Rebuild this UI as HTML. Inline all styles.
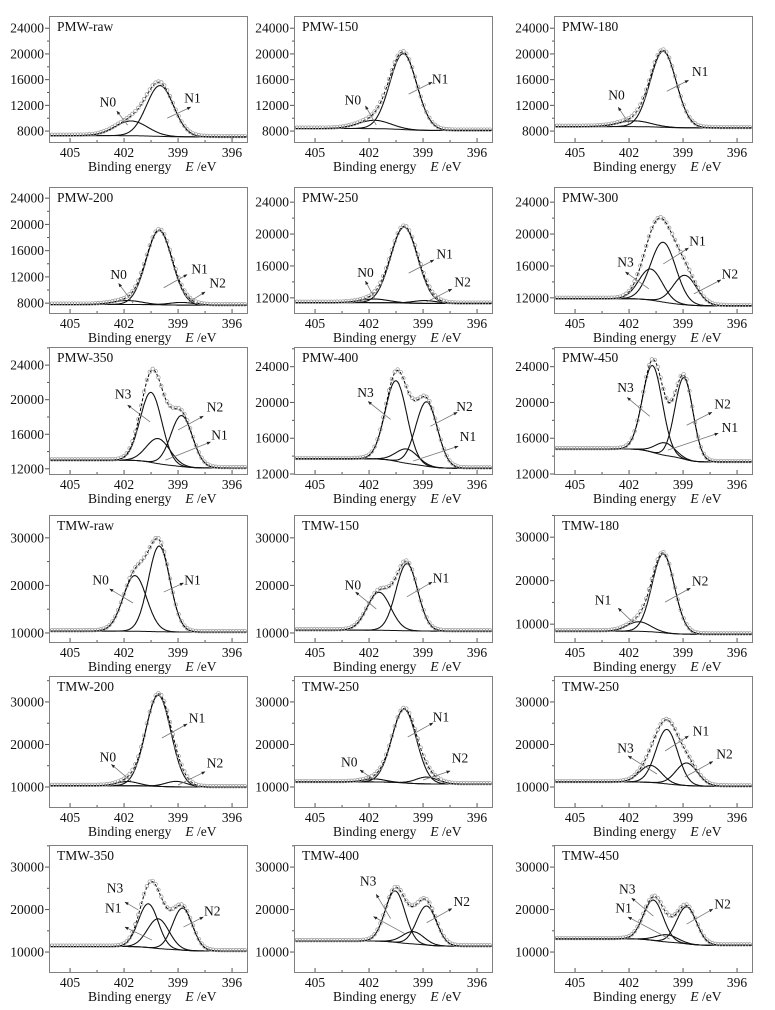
<!DOCTYPE html>
<html><head><meta charset="utf-8"><style>
html,body{margin:0;padding:0;background:#fff;}
svg{display:block;}
svg text{font-family:"Liberation Serif","Times New Roman",serif;}
</style></head><body>
<svg id="fig" width="775" height="1010" viewBox="0 0 775 1010" xmlns="http://www.w3.org/2000/svg" font-family="Liberation Serif, serif"></svg>
<script>
const panelNames=["PMW-raw","PMW-150","PMW-180","PMW-200","PMW-250","PMW-300","PMW-350","PMW-400","PMW-450","TMW-raw","TMW-150","TMW-180","TMW-200","TMW-250","TMW-250","TMW-350","TMW-400","TMW-450"];
const yDomains=[[6300,25900],[6300,25900],[6300,25900],[6500,25700],[10100,25900],[10100,25900],[11400,26100],[12000,26200],[12000,26200],[8100,34800],[8100,34800],[5900,35100],[5300,36100],[5300,36100],[5300,36100],[5300,35200],[5300,35200],[5300,35200]];
const yTickSets=[[8000,12000,16000,20000,24000],[8000,12000,16000,20000,24000],[8000,12000,16000,20000,24000],[8000,12000,16000,20000,24000],[12000,16000,20000,24000],[12000,16000,20000,24000],[12000,16000,20000,24000],[12000,16000,20000,24000],[12000,16000,20000,24000],[10000,20000,30000],[10000,20000,30000],[10000,20000,30000],[10000,20000,30000],[10000,20000,30000],[10000,20000,30000],[10000,20000,30000],[10000,20000,30000],[10000,20000,30000]];
const xTicks=[405,402,399,396];
const baseLeft=[7300,8400,8700,7800,11400,11900,13000,13700,14800,10400,10600,8400,10300,11200,11200,11300,12600,13100];
const baseRight=[7100,8100,8500,7700,11300,11000,12100,12650,13350,10200,10400,7700,10000,10700,10200,10250,11400,11600];
const peakCenters=[[401.6,400.0],[401.7,400.1],[401.7,400.1],[401.8,400.05,398.8],[401.7,400.05,398.9],[400.8,400.1,398.9],[400.5,400.1,398.8],[400.5,399.9,398.8],[400.7,400.0,398.95],[401.4,400.05],[401.45,399.9],[401.45,400.1],[401.8,400.1,399.1],[401.7,400.05,398.8],[400.8,399.9,398.8],[400.65,400.1,398.75],[400.55,399.55,398.8],[400.65,399.9,398.8]];
const peakHeights=[[2300,7900],[1300,11800],[900,11800],[600,11300,400],[450,9500,350],[3900,7500,3700],[8100,2900,5900],[9000,1600,7200],[9700,1400,9100],[11700,18000],[8000,14100],[2200,18100],[1000,21400,1300],[700,17300,1600],[4000,12800,5300],[10300,7000,9900],[12100,2900,9200],[9500,1700,8700]];
const peakWidths=[[0.9,0.75],[0.9,0.75],[0.9,0.72],[0.8,0.72,0.7],[0.8,0.75,0.65],[0.65,0.7,0.65],[0.6,0.65,0.6],[0.6,0.6,0.6],[0.55,0.55,0.5],[0.65,0.6],[0.65,0.6],[0.65,0.62],[0.6,0.7,0.6],[0.6,0.68,0.6],[0.6,0.6,0.6],[0.55,0.6,0.55],[0.55,0.6,0.55],[0.55,0.6,0.55]];
// [text, textE, textV, tailE, tailV, headE, headV]
const peakLabels=[
[["N0",402.9,12500,401.8,8930,402.4,11100],["N1",398.2,13130,399.6,10020,398.3,11730]],
[["N0",402.9,12800,401.6,8930,402.2,11900],["N1",398.05,16080,399.8,13750,398.5,15600]],
[["N0",402.7,13600,401.95,8930,402.6,11700],["N1",398.05,17300,399.9,14200,398.7,15900]],
[["N0",402.3,12400,401.5,8000,402.3,11000],["N1",397.8,13240,399.8,10350,398.5,12350],["N2",396.8,11100,398.5,8000,397.5,9700]],
[["N0",402.2,15200,401.7,11960,402.2,14100],["N1",397.8,17500,399.8,15100,398.4,16750],["N2",396.8,14000,398.8,11500,397.4,13100]],
[["N3",402.2,16500,400.9,13130,402.2,15250],["N1",398.2,19100,400.1,16250,398.7,18250],["N2",396.4,15000,398.4,12500,396.9,14250]],
[["N3",402.05,20650,400.55,17420,401.8,19380],["N2",396.95,19150,399.0,16500,397.6,18100],["N1",396.7,15900,399.7,13000,397.2,15100]],
[["N3",402.2,21100,400.8,18100,402.05,20100],["N2",396.7,19550,398.6,17330,397.1,18900],["N1",396.5,16200,399.55,13450,397.05,15100]],
[["N3",402.2,21670,400.85,18450,402.1,20550],["N2",396.8,19800,398.8,17450,397.4,18900],["N1",396.4,17200,399.85,14670,397.05,16550]],
[["N0",403.3,21160,401.5,16300,402.8,19260],["N1",398.2,21160,399.8,18600,398.7,20500]],
[["N0",402.9,20100,401.6,15050,402.75,18600],["N1",398.0,21600,399.9,17600,398.5,20700]],
[["N1",403.45,15520,401.8,10460,402.6,13680],["N2",398.05,19880,400.0,15060,398.6,18280]],
[["N0",402.9,17060,401.55,11180,402.7,15300],["N1",397.95,26240,399.9,21530,398.5,24820],["N2",396.95,15650,399.0,10470,397.5,13600]],
[["N0",403.1,15900,401.7,11650,402.5,13990],["N1",398.0,26470,399.85,21760,398.45,25060],["N2",396.95,16820,399.0,11650,397.5,13760]],
[["N3",402.2,19170,400.45,13060,402.05,17300],["N1",398.0,23180,400.0,18470,398.7,22000],["N2",396.7,17760,398.9,12350,397.35,16000]],
[["N3",402.5,25060,401.2,19880,401.95,21760],["N1",402.6,20350,400.45,12820,401.95,15880],["N2",397.1,19650,398.7,15880,397.6,18240]],
[["N3",402.05,26670,400.8,17860,401.6,23570],["",0,0,400.0,14290,401.75,18330],["N2",396.85,21900,398.8,16900,397.4,20240]],
[["N3",402.1,24830,400.65,18470,401.85,22700],["N1",402.3,20350,399.75,13060,402.05,18240],["N2",396.8,21300,398.8,16590,397.35,20120]]
];
const colLefts=[49,294,554];
const rowFrames=[[16,142],[187,313],[347,474],[515,642],[676,807],[845,972]];
const PW=198;
const FONT='"Liberation Serif", "Times New Roman", serif';
const NS="http://www.w3.org/2000/svg";
const svg=document.getElementById('fig');
function mk(tag,attrs,parent){const el=document.createElementNS(NS,tag);for(const k in attrs)el.setAttribute(k,attrs[k]);if(tag==='text')el.setAttribute('font-family',FONT);(parent||svg).appendChild(el);return el;}
function erf(x){const t=1/(1+0.3275911*Math.abs(x));const y=1-(((((1.061405429*t-1.453152027)*t)+1.421413741)*t-0.284496736)*t+0.254829592)*t*Math.exp(-x*x);return x>=0?y:-y;}
const EMAX=406.17,EMIN=395.17;
const defs=mk('defs',{});
const mrk=mk('marker',{id:'ah',viewBox:'0 0 10 10',refX:'9',refY:'5',markerWidth:'5',markerHeight:'5',orient:'auto'},defs);
mk('path',{d:'M0,1 L10,5 L0,9 z',fill:'#222'},mrk);

panelNames.forEach((name,i)=>{
  const r=Math.floor(i/3),c=i%3;
  const L=colLefts[c],T=rowFrames[r][0],B=rowFrames[r][1];
  const [lo,hi]=yDomains[i];
  const xs=e=>L+(EMAX-e)/(EMAX-EMIN)*PW;
  const ys=v=>B-(v-lo)/(hi-lo)*(B-T);
  const g=mk('g',{});
  
  
  const C=peakCenters[i],H=peakHeights[i],S=peakWidths[i];
  const tot=H.reduce((a,h,k)=>a+h*S[k],0);
  const base=e=>{let f=0;for(let k=0;k<C.length;k++)f+=H[k]*S[k]*0.5*(1+erf((e-C[k])/(S[k]*Math.SQRT2)));return baseRight[i]+(baseLeft[i]-baseRight[i])*f/tot;};
  const comp=(k,e)=>H[k]*Math.exp(-(e-C[k])*(e-C[k])/(2*S[k]*S[k]));
  const env=e=>{let v=base(e);for(let k=0;k<C.length;k++)v+=comp(k,e);return v;};
  const clip=mk('clipPath',{id:'cp'+i},defs);
  mk('rect',{x:L,y:T,width:PW,height:B-T},clip);
  const plot=mk('g',{'clip-path':'url(#cp'+i+')'},g);
  const path=f=>{let d='';for(let e=EMAX;e>=EMIN-0.01;e-=0.03){d+=(d?'L':'M')+xs(e).toFixed(1)+','+ys(f(e)).toFixed(1);}return d;};
  const bl=mk('path',{d:path(base),fill:'none',stroke:'#111','stroke-width':1},plot);
  
  
  for(let k=0;k<C.length;k++){
    const cp=mk('path',{d:path(e=>base(e)+comp(k,e)),fill:'none',stroke:'#111','stroke-width':1.1},plot);
    
    
  }
  const ev=mk('path',{d:path(env),fill:'none',stroke:'#000','stroke-width':1,'stroke-dasharray':'3,2'},plot);
  
  
  const dots=mk('g',{},plot);
  
  
  for(let e=EMAX;e>=EMIN;e-=0.16){mk('circle',{cx:xs(e).toFixed(1),cy:(ys(env(e))-0.8).toFixed(1),r:1.8,fill:'none',stroke:'#9a9a9a','stroke-width':0.7},dots);}
  const fr=mk('rect',{x:L+0.5,y:T+0.5,width:PW,height:B-T,fill:'none',stroke:'#808080','stroke-width':1},g);
  
  
  const ticks=yTickSets[i];const step=ticks[1]-ticks[0];
  for(let v=ticks[0]-step/2;v<=hi;v+=step/2){
    if(v<lo)continue;const isMaj=ticks.some(t=>Math.abs(t-v)<1);
    mk('line',{x1:L-(isMaj?4:2),x2:L,y1:ys(v),y2:ys(v),stroke:'#555','stroke-width':1},g);
  }
  ticks.forEach(v=>{const t=mk('text',{x:L-5,y:ys(v)+4.5,'text-anchor':'end','font-size':13.5,fill:'#111'},g);t.textContent=v;
    
    });
  for(let e=405;e>=395.5;e-=1.5){const isMaj=xTicks.includes(e);mk('line',{x1:xs(e),x2:xs(e),y1:B,y2:B-(isMaj?4:2),stroke:'#555','stroke-width':1},g);}
  xTicks.forEach(e=>{const t=mk('text',{x:xs(e),y:B+15,'text-anchor':'middle','font-size':13.5,fill:'#111'},g);t.textContent=e;
    
    });
  const at=mk('text',{x:L+39,y:B+29,'font-size':13.5,fill:'#111'},g);
  
  
  at.innerHTML='Binding energy<tspan dx="14" font-style="italic">E</tspan><tspan> /eV</tspan>';
  const tt=mk('text',{x:L+8,y:T+15,'font-size':13.5,fill:'#111'},g);
  tt.textContent=name;
  
  
  peakLabels[i].forEach(lb=>{
    const ln=mk('line',{x1:xs(lb[3]),y1:ys(lb[4]),x2:xs(lb[5]),y2:ys(lb[6]),stroke:'#777','stroke-width':0.8,'marker-end':'url(#ah)'},g);
    
    
    if(lb[0]){const t=mk('text',{x:xs(lb[1]),y:ys(lb[2])+4.5,'text-anchor':'middle','font-size':13.5,fill:'#111'},g);t.textContent=lb[0];
      
      }
  });
});
</script>
</body></html>
